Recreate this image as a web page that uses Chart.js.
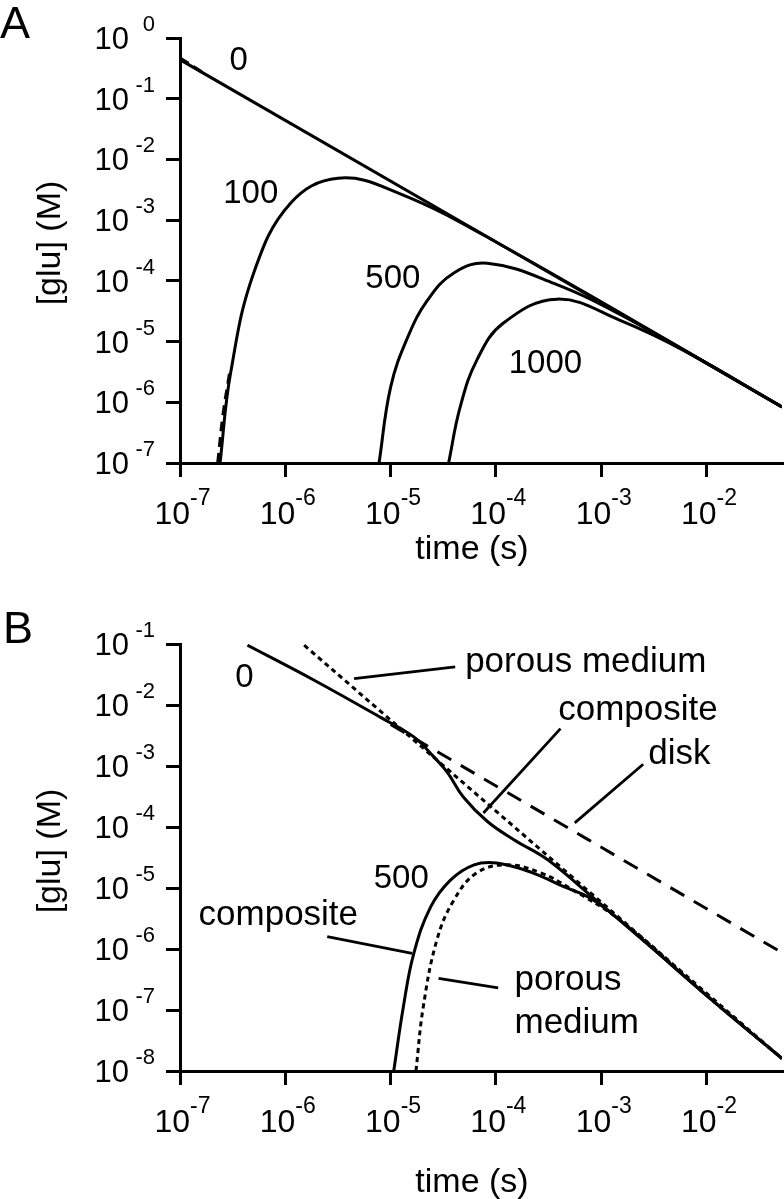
<!DOCTYPE html>
<html>
<head>
<meta charset="utf-8">
<script src="https://cdn.jsdelivr.net/npm/chart.js@4.4.1/dist/chart.umd.min.js"></script>
<style>
    html, body { margin: 0; padding: 0; background: #fff; }
    #wrap { position: relative; width: 784px; height: 1199px; }
    canvas { position: absolute; left: 0; }
</style>
</head>
<body>
<div id="wrap">
    <canvas id="chartA" width="784" height="580" style="top:0px"></canvas>
    <canvas id="chartB" width="784" height="619" style="top:580px"></canvas>
</div>
<script>
// tick values and exponent labels
const timeTicks = [1e-7, 1e-6, 1e-5, 1e-4, 1e-3, 1e-2];
const timeExp = ['-7', '-6', '-5', '-4', '-3', '-2'];
const concTicksA = [1, 1e-1, 1e-2, 1e-3, 1e-4, 1e-5, 1e-6, 1e-7];
const concExpA = ['0', '-1', '-2', '-3', '-4', '-5', '-6', '-7'];
const concTicksB = [1e-1, 1e-2, 1e-3, 1e-4, 1e-5, 1e-6, 1e-7, 1e-8];
const concExpB = ['-1', '-2', '-3', '-4', '-5', '-6', '-7', '-8'];

// panel A: time (s) / [glu] (M)
const tA0 = [1e-7, 0.052];
const cA0 = [0.44, 8.4e-7];
const tA0dash = [1e-7, 1.7e-7];
const cA0dash = [0.47, 0.26];
const tA100 = [2.40e-7, 3.02e-7, 5.01e-7, 1.12e-6, 3.16e-6, 1.17e-5, 1.0e-4, 0.052];
const cA100 = [1e-7, 3.0e-6, 1.35e-4, 1.9e-3, 4.9e-3, 2.82e-3, 4.37e-4, 8.4e-7];
const tA100dash = [2.28e-7, 2.55e-7, 2.95e-7];
const cA100dash = [1e-7, 6e-7, 3.0e-6];
const tA500 = [7.76e-6, 1.0e-5, 1.45e-5, 2.24e-5, 3.98e-5, 8.3e-5, 3.55e-4, 1.78e-3, 0.052];
const cA500 = [1e-7, 1.78e-6, 1.17e-5, 4.8e-5, 1.35e-4, 1.95e-4, 9.1e-5, 2.4e-5, 8.4e-7];
const tA1000 = [3.55e-5, 4.57e-5, 6.6e-5, 1.17e-4, 3.8e-4, 1.51e-3, 6.3e-3, 0.052];
const cA1000 = [1e-7, 8.3e-7, 5.0e-6, 2.0e-5, 5.0e-5, 2.24e-5, 6.9e-6, 8.4e-7];

// panel B
const tB0 = [4.37e-7, 1.86e-6, 8.1e-6, 1.66e-5, 2.57e-5, 3.47e-5, 4.9e-5, 8.3e-5, 1.48e-4, 3.1e-4, 7.4e-4, 2.75e-3, 1.15e-2, 0.052];
const cB0 = [0.0955, 0.0257, 6.2e-3, 3.0e-3, 1.41e-3, 7.8e-4, 3.1e-4, 1.23e-4, 6.2e-5, 2.9e-5, 8.3e-6, 1.2e-6, 1.41e-7, 1.6e-8];
const tBporous = [1.51e-6, 0.052];
const cBporous = [0.0955, 1.6e-8];
const tBdisk = [1.0e-5, 0.052];
const cBdisk = [4.8e-3, 8.7e-7];
const tB500 = [1.07e-5, 1.32e-5, 1.66e-5, 2.4e-5, 3.7e-5, 6.2e-5, 1.02e-4, 2.14e-4, 4.4e-4, 7.9e-4, 1.58e-3, 1.15e-2, 0.052];
const cB500 = [1e-8, 1.12e-7, 8.5e-7, 4.9e-6, 1.35e-5, 2.4e-5, 2.57e-5, 1.82e-5, 1.05e-5, 6.8e-6, 2.75e-6, 1.41e-7, 1.6e-8];
const tB500por = [1.74e-5, 2.04e-5, 2.75e-5, 3.98e-5, 6.6e-5, 1.29e-4, 2.63e-4, 5.0e-4, 1.58e-3, 1.15e-2, 0.052];
const cB500por = [1e-8, 1.12e-7, 1.41e-6, 6.3e-6, 1.78e-5, 2.4e-5, 1.78e-5, 1.0e-5, 2.8e-6, 1.41e-7, 1.6e-8];

// curve labels: text, t, c (baseline), align, font size
const notesA = [
    ['0', 3.6e-7, 0.297, 'center', 33],
    ['100', 4.7e-7, 1.9e-3, 'center', 33],
    ['500', 1.05e-5, 7.6e-5, 'center', 33],
    ['1000', 2.95e-4, 3.0e-6, 'center', 33]
];
const notesB = [
    ['0', 4.1e-7, 1.97e-2, 'center', 33],
    ['porous medium', 5.1e-5, 3.5e-2, 'left', 35],
    ['composite', 3.9e-4, 5.6e-3, 'left', 35],
    ['disk', 2.8e-3, 1.07e-3, 'left', 35],
    ['500', 1.26e-5, 1e-5, 'center', 33],
    ['composite', 1.5e-7, 2.45e-6, 'left', 35],
    ['porous', 1.5e-4, 2.1e-7, 'left', 35],
    ['medium', 1.5e-4, 4.2e-8, 'left', 35]
];
// leader lines from label to curve
const leadersB = [
    [4.5e-6, 2.7e-2, 4.1e-5, 4.2e-2],
    [4.1e-4, 4.1e-3, 7.6e-5, 1.7e-4],
    [2.5e-3, 1.07e-3, 5.6e-4, 1.17e-4],
    [2.5e-6, 1.6e-6, 1.6e-5, 8.5e-7],
    [2.85e-5, 3.3e-7, 1.05e-4, 2.3e-7]
];

const FONT = '"Liberation Sans", Arial, Helvetica, sans-serif';

function pts(ts, cs) {
    return ts.map((t, i) => ({ x: t, y: cs[i] }));
}

function curve(ts, cs, dash) {
    return {
        data: pts(ts, cs),
        borderColor: '#000',
        borderWidth: 3,
        borderDash: dash || [],
        pointRadius: 0,
        fill: false,
        tension: 0.4
    };
}

function textPlugin(cfg) {
    return {
        id: 'texts',
        afterDatasetsDraw(chart) {
            const ctx = chart.ctx;
            const xs = chart.scales.x, ys = chart.scales.y;
            ctx.save();
            ctx.strokeStyle = '#000';
            ctx.lineWidth = 2.8;
            (cfg.leaders || []).forEach(l => {
                ctx.beginPath();
                ctx.moveTo(xs.getPixelForValue(l[0]), ys.getPixelForValue(l[1]));
                ctx.lineTo(xs.getPixelForValue(l[2]), ys.getPixelForValue(l[3]));
                ctx.stroke();
            });
            ctx.fillStyle = '#000';
            ctx.textBaseline = 'alphabetic';
            cfg.notes.forEach(n => {
                ctx.font = n[4] + 'px ' + FONT;
                ctx.textAlign = n[3];
                ctx.fillText(n[0], xs.getPixelForValue(n[1]), ys.getPixelForValue(n[2]));
            });
            ctx.restore();
        },
        afterDraw(chart) {
            const ctx = chart.ctx;
            const xs = chart.scales.x, ys = chart.scales.y;
            const bottom = chart.chartArea.bottom;
            ctx.save();
            ctx.fillStyle = '#000';
            ctx.textBaseline = 'alphabetic';
            // x tick labels
            timeTicks.forEach((v, i) => {
                const px = xs.getPixelForValue(v);
                ctx.font = '32px ' + FONT;
                ctx.textAlign = 'right';
                ctx.fillText('10', px + 10, bottom + 61);
                ctx.font = '23px ' + FONT;
                ctx.textAlign = 'left';
                ctx.fillText(timeExp[i], px + 10, bottom + 42);
            });
            // y tick labels
            cfg.yTicks.forEach((v, i) => {
                const py = ys.getPixelForValue(v);
                ctx.font = '31px ' + FONT;
                ctx.textAlign = 'right';
                ctx.fillText('10', 129, py + 11);
                ctx.font = '22px ' + FONT;
                ctx.fillText(cfg.yExp[i], 155, py - 7);
            });
            // axis titles
            ctx.font = '34px ' + FONT;
            ctx.textAlign = 'center';
            ctx.fillText('time (s)', 472, cfg.xTitleY);
            ctx.save();
            ctx.translate(60, cfg.yTitleY);
            ctx.rotate(-Math.PI / 2);
            ctx.fillText('[glu] (M)', 0, 0);
            ctx.restore();
            // panel letter
            ctx.font = '45px ' + FONT;
            ctx.textAlign = 'left';
            ctx.fillText(cfg.letter, cfg.letterX, cfg.letterY);
            ctx.restore();
        }
    };
}

function makeChart(id, datasets, cfg) {
    const axisStyle = {
        grid: { display: true, drawOnChartArea: false, drawTicks: true, tickLength: 14, color: '#000', lineWidth: 3 },
        border: { display: true, color: '#000', width: 3 },
        ticks: { display: false }
    };
    return new Chart(document.getElementById(id), {
        type: 'line',
        data: { datasets: datasets },
        options: {
            responsive: false,
            animation: false,
            devicePixelRatio: 1,
            layout: { padding: { left: 0, top: cfg.top, right: 2, bottom: 0 } },
            plugins: { legend: { display: false }, tooltip: { enabled: false } },
            scales: {
                x: Object.assign({
                    type: 'logarithmic',
                    min: 1e-7,
                    max: 0.052,
                    afterBuildTicks: s => { s.ticks = timeTicks.map(v => ({ value: v })); },
                    afterFit: s => { s.height = cfg.xAxisH; }
                }, axisStyle),
                y: Object.assign({
                    type: 'logarithmic',
                    min: cfg.yMin,
                    max: cfg.yMax,
                    afterBuildTicks: s => { s.ticks = cfg.yTicks.map(v => ({ value: v })); },
                    afterFit: s => { s.width = 180; }
                }, axisStyle)
            }
        },
        plugins: [textPlugin(cfg)]
    });
}

makeChart('chartA', [
    curve(tA0, cA0),
    curve(tA0dash, cA0dash, [10, 6]),
    curve(tA100, cA100),
    curve(tA100dash, cA100dash, [10, 6]),
    curve(tA500, cA500),
    curve(tA1000, cA1000)
], {
    top: 38, xAxisH: 117, yMin: 1e-7, yMax: 1,
    yTicks: concTicksA, yExp: concExpA, notes: notesA,
    xTitleY: 559, yTitleY: 243, letter: 'A', letterX: 0, letterY: 38
});

makeChart('chartB', [
    curve(tB0, cB0),
    curve(tBporous, cBporous, [5, 4]),
    curve(tBdisk, cBdisk, [16, 11]),
    curve(tB500, cB500),
    curve(tB500por, cB500por, [5, 4])
], {
    top: 64, xAxisH: 128, yMin: 1e-8, yMax: 1e-1,
    yTicks: concTicksB, yExp: concExpB, notes: notesB, leaders: leadersB,
    xTitleY: 612, yTitleY: 271, letter: 'B', letterX: 3, letterY: 63
});
</script>
</body>
</html>
